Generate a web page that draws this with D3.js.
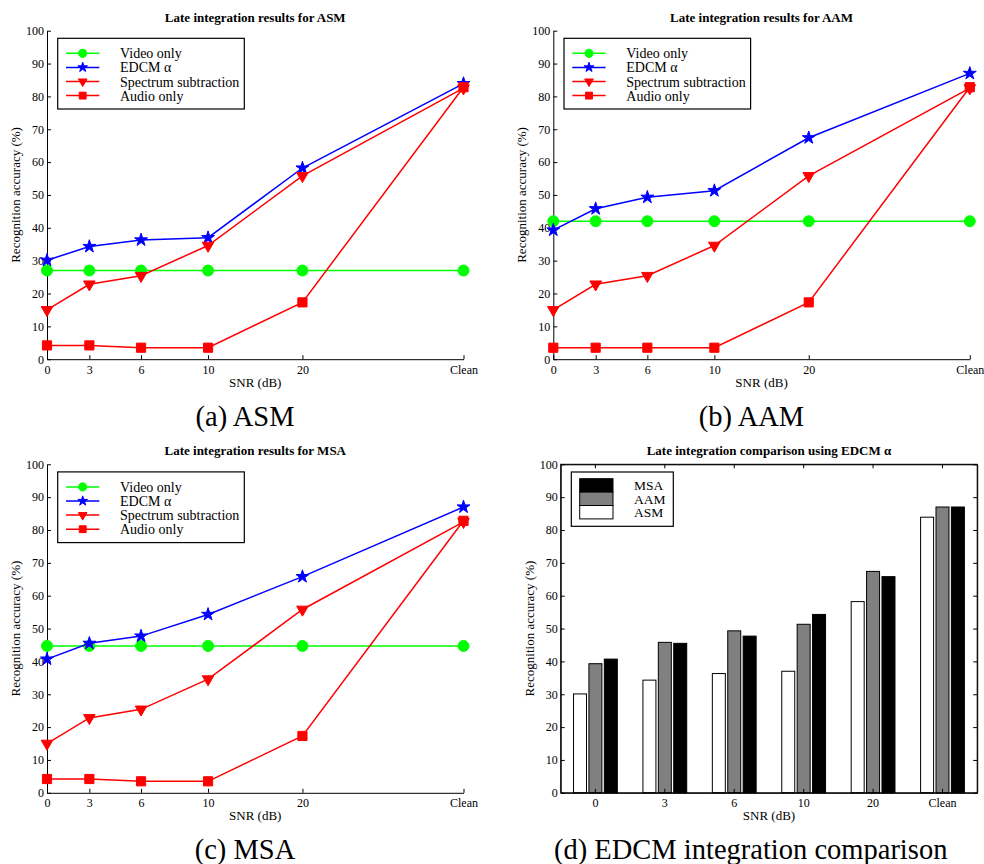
<!DOCTYPE html>
<html lang="en">

<head>
  <meta charset="UTF-8">
  <title>Late integration results</title>
  <script src="https://cdn.jsdelivr.net/npm/d3@7"></script>
  <style>
    body { margin: 0; background: #fff; }
    text { font-family: "Liberation Serif", "Times New Roman", serif; fill: #000; }
  </style>
</head>

<body>
  <svg width="984" height="864"></svg>
  <script>
    // categories and tick labels
    var snrLabels = ["0", "3", "6", "10", "20", "Clean"];
    var methods = ["Video only", "EDCM α", "Spectrum subtraction", "Audio only"];
    var features = ["ASM", "AAM", "MSA"];
    var yTicks = [0, 10, 20, 30, 40, 50, 60, 70, 80, 90, 100];

    // recognition accuracy (%)
    var asmVideo = [27, 27, 27, 27, 27, 27];
    var asmEdcm = [30.1, 34.3, 36.3, 37.0, 58.2, 83.9];
    var asmSpec = [15.0, 22.8, 25.4, 34.6, 55.8, 82.5];
    var asmAudio = [4.2, 4.2, 3.5, 3.5, 17.3, 82.8];

    var aamVideo = [42, 42, 42, 42, 42, 42];
    var aamEdcm = [39.3, 45.8, 49.3, 51.3, 67.4, 87.0];
    var aamSpec = [15.0, 22.8, 25.4, 34.6, 55.8, 82.5];
    var aamAudio = [3.5, 3.5, 3.5, 3.5, 17.3, 82.8];

    var msaVideo = [44.7, 44.7, 44.7, 44.7, 44.7, 44.7];
    var msaEdcm = [40.7, 45.5, 47.7, 54.3, 65.8, 87.0];
    var msaSpec = [15.0, 22.8, 25.4, 34.6, 55.8, 82.5];
    var msaAudio = [4.2, 4.2, 3.5, 3.5, 17.3, 82.8];

    // ---- layout / style ----
    var svg = d3.select("svg");
    var plotW = 416.5, plotH = 328.5;
    // the SNR axis of the line plots is not evenly spaced
    var xFrac = [0, 0.1017, 0.2258, 0.3867, 0.6133, 1];
    var colors = ["#00ff00", "#0000ff", "#ff0000", "#ff0000"];
    var markerTypes = ["circle", "star", "triangle", "square"];
    var barFill = { ASM: "#ffffff", AAM: "#808080", MSA: "#000000" };

    var y = d3.scaleLinear().domain([0, 100]).range([plotH, 0]);

    function drawMarker(sel, type, scale) {
      if (type == "circle") {
        sel.append("circle").attr("r", 5.5 * scale);
      } else if (type == "star") {
        sel.append("path").attr("d", d3.symbol(d3.symbolStar, 52 * scale * scale)());
      } else if (type == "triangle") {
        sel.append("path").attr("d", d3.symbol(d3.symbolTriangle, 58 * scale * scale)())
          .attr("transform", "rotate(180)");
      } else {
        sel.append("path").attr("d", d3.symbol(d3.symbolSquare, 84 * scale * scale)());
      }
    }

    function axisText(g, title, yLabel, xLabel) {
      g.append("text").attr("x", plotW / 2).attr("y", -9)
        .attr("text-anchor", "middle").attr("font-size", 13).attr("font-weight", "bold")
        .text(title);
      g.append("text").attr("transform", "translate(-27," + plotH / 2 + ") rotate(-90)")
        .attr("text-anchor", "middle").attr("font-size", 13).text(yLabel);
      g.append("text").attr("x", plotW / 2).attr("y", plotH + 27.5)
        .attr("text-anchor", "middle").attr("font-size", 13).text(xLabel);
    }

    function styleAxis(a) {
      a.selectAll("path, line").attr("stroke", "#000");
      a.selectAll("text").attr("font-size", 12).attr("font-family", "Liberation Serif, serif");
    }

    // ---- line panels (a)(b)(c) ----
    var linePanels = [
      { left: 47, top: 30.7, name: "ASM", series: [asmVideo, asmEdcm, asmSpec, asmAudio], caption: "(a) ASM", cx: 245, cy: 426 },
      { left: 553.3, top: 30.7, name: "AAM", series: [aamVideo, aamEdcm, aamSpec, aamAudio], caption: "(b) AAM", cx: 751.5, cy: 426 },
      { left: 47, top: 464.3, name: "MSA", series: [msaVideo, msaEdcm, msaSpec, msaAudio], caption: "(c) MSA", cx: 245, cy: 858.7 }
    ];

    var x = d3.scaleLinear().domain(d3.range(snrLabels.length)).range(xFrac.map(function (f) { return f * plotW; }));

    linePanels.forEach(function (p) {
      var g = svg.append("g").attr("transform", "translate(" + p.left + "," + p.top + ")");

      var ax = g.append("g").attr("transform", "translate(0," + plotH + ")")
        .call(d3.axisBottom(x).tickValues(d3.range(snrLabels.length))
          .tickFormat(function (i) { return snrLabels[i]; })
          .tickSizeInner(-4).tickSizeOuter(0).tickPadding(6));
      var ay = g.append("g")
        .call(d3.axisLeft(y).tickValues(yTicks).tickSizeInner(-4).tickSizeOuter(0).tickPadding(3));
      styleAxis(ax); styleAxis(ay);

      var line = d3.line().x(function (d, i) { return x(i); }).y(function (d) { return y(d); });

      p.series.forEach(function (s, k) {
        g.append("path").datum(s).attr("d", line)
          .attr("fill", "none").attr("stroke", colors[k]).attr("stroke-width", 1.5);
        var m = g.selectAll(".m" + k).data(s).enter().append("g")
          .attr("transform", function (d, i) { return "translate(" + x(i) + "," + y(d) + ")"; })
          .attr("fill", colors[k]).attr("stroke", colors[k]).attr("stroke-width", 1);
        drawMarker(m, markerTypes[k], 1);
      });

      axisText(g, "Late integration results for " + p.name, "Recognition accuracy (%)", "SNR (dB)");

      // legend
      var lg = g.append("g").attr("transform", "translate(10.7,7.6)");
      lg.append("rect").attr("width", 186.6).attr("height", 70.7)
        .attr("fill", "#fff").attr("stroke", "#000").attr("stroke-width", 1.2);
      methods.forEach(function (name, k) {
        var row = lg.append("g").attr("transform", "translate(0," + (15 + k * 14.1) + ")");
        row.append("line").attr("x1", 8.3).attr("x2", 41.6)
          .attr("stroke", colors[k]).attr("stroke-width", 1.5);
        var mk = row.append("g").attr("transform", "translate(25,0)")
          .attr("fill", colors[k]).attr("stroke", colors[k]);
        drawMarker(mk, markerTypes[k], 0.75);
        row.append("text").attr("x", 62.3).attr("y", 5).attr("font-size", 14).text(name);
      });

      svg.append("text").attr("x", p.cx).attr("y", p.cy).attr("text-anchor", "middle")
        .attr("font-size", 28.5).text(p.caption);
    });

    // ---- bar panel (d) ----
    var byFeature = { ASM: asmEdcm, AAM: aamEdcm, MSA: msaEdcm };
    var gd = svg.append("g").attr("transform", "translate(560.7,464.3)");

    var x0 = d3.scaleBand().domain(snrLabels).range([0, plotW]);
    var x1 = d3.scaleBand().domain(features).range([-21.9, 21.9]).paddingInner(0.156);

    gd.selectAll(".grp").data(snrLabels).enter().append("g")
      .attr("transform", function (d) { return "translate(" + (x0(d) + x0.bandwidth() / 2) + ",0)"; })
      .each(function (c, i) {
        d3.select(this).selectAll("rect").data(features).enter().append("rect")
          .attr("x", function (f) { return x1(f); })
          .attr("width", x1.bandwidth())
          .attr("y", function (f) { return y(byFeature[f][i]); })
          .attr("height", function (f) { return plotH - y(byFeature[f][i]); })
          .attr("fill", function (f) { return barFill[f]; })
          .attr("stroke", "#000").attr("stroke-width", 1);
      });

    var dB = gd.append("g").attr("transform", "translate(0," + plotH + ")")
      .call(d3.axisBottom(x0).tickSizeInner(-4).tickSizeOuter(0).tickPadding(6));
    var dT = gd.append("g")
      .call(d3.axisTop(x0).tickSizeInner(-4).tickSizeOuter(0).tickFormat(""));
    var dL = gd.append("g")
      .call(d3.axisLeft(y).tickValues(yTicks).tickSizeInner(-4).tickSizeOuter(0).tickPadding(3));
    var dR = gd.append("g").attr("transform", "translate(" + plotW + ",0)")
      .call(d3.axisRight(y).tickValues(yTicks).tickSizeInner(-4).tickSizeOuter(0).tickFormat(""));
    [dB, dT, dL, dR].forEach(styleAxis);
    gd.append("rect").attr("width", plotW).attr("height", plotH)
      .attr("fill", "none").attr("stroke", "#000").attr("stroke-width", 1);

    axisText(gd, "Late integration comparison using EDCM α", "Recognition accuracy (%)", "SNR (dB)");

    // legend, drawn top to bottom as MSA, AAM, ASM
    var dl = gd.append("g").attr("transform", "translate(10.6,7.7)");
    dl.append("rect").attr("width", 102).attr("height", 54.3)
      .attr("fill", "#fff").attr("stroke", "#000").attr("stroke-width", 1.2);
    features.slice().reverse().forEach(function (f, k) {
      dl.append("rect").attr("x", 8.4).attr("y", 6.7 + k * 13.4)
        .attr("width", 33.3).attr("height", 13.4)
        .attr("fill", barFill[f]).attr("stroke", "#000").attr("stroke-width", 1);
      dl.append("text").attr("x", 62.7).attr("y", 18.3 + k * 13.4)
        .attr("font-size", 13.5).text(f);
    });

    svg.append("text").attr("x", 750.7).attr("y", 858.7).attr("text-anchor", "middle")
      .attr("font-size", 28.5).text("(d) EDCM integration comparison");
  </script>
</body>

</html>
